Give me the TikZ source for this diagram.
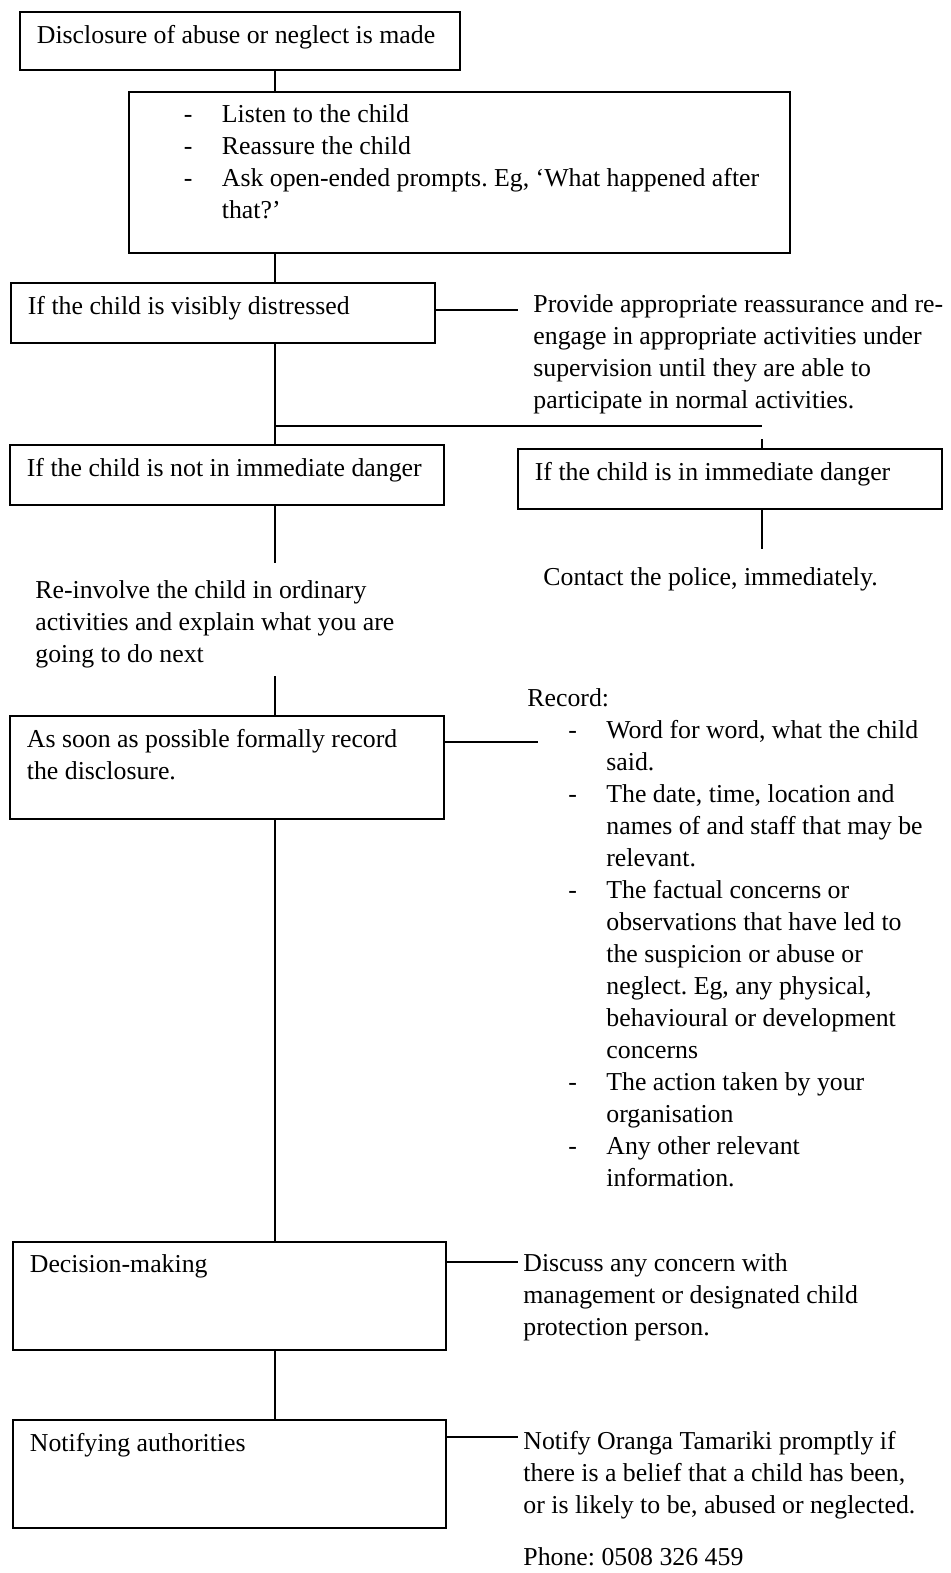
\documentclass[tikz,border=0pt]{standalone}
\usepackage{fontspec}
\setmainfont{Liberation Serif}
\usetikzlibrary{positioning}
\frenchspacing
\newcommand{\boxtxt}[3]{\parbox[c][#2][t]{#1}{\raggedright #3}}
\newcommand{\bul}{\makebox[19pt][l]{-}}
\begin{document}
\begin{tikzpicture}[x=0.5pt, y=-0.5pt,
  font=\fontsize{12.9pt}{16pt}\selectfont,
  box/.style={draw, line width=0.9pt, anchor=north west, inner xsep=8.5pt, inner ysep=6.5pt},
  txt/.style={anchor=north west, inner sep=0pt, align=left},
  line/.style={line width=0.6pt}]

  \useasboundingbox (0,0) rectangle (951,1573);

  % boxes down the left side
  \node[box] (made) at (19,11) {\boxtxt{203pt}{16pt}{Disclosure of abuse or neglect is made}};
  \node[box] (listen) at (128,91) {\boxtxt{313.5pt}{67.5pt}{\leftskip=19pt
    \bul Listen to the child\\
    \bul Reassure the child\\
    \bul Ask open-ended prompts. Eg, `What happened after\\
    \hspace*{19pt}that?'}};
  \node[box] (upset) at (10,282) {\boxtxt{195pt}{17pt}{If the child is visibly distressed}};
  \node[box] (safe) at (9,444) {\boxtxt{200pt}{17pt}{If the child is not in immediate danger}};
  \node[box] (danger) at (517,448) {\boxtxt{195pt}{17pt}{If the child is in immediate danger}};
  \node[box] (record) at (9,715) {\boxtxt{200pt}{38.5pt}{As soon as possible formally record the disclosure.}};
  \node[box] (decide) at (12,1241) {\boxtxt{199.5pt}{41pt}{Decision-making}};
  \node[box] (notify) at (12,1419) {\boxtxt{199.5pt}{41pt}{Notifying authorities}};

  % free texts
  \node[txt] (tcalm) at (533,294) {Provide appropriate reassurance and re-\\
    engage in appropriate activities under\\
    supervision until they  are able to\\
    participate in normal activities.};
  \node[txt] (tpolice) at (543,567) {Contact the police, immediately.};
  \node[txt] (tback) at (35,580) {Re-involve the child in ordinary\\
    activities and explain what you are\\
    going to do next};
  \node[txt] (trec) at (527,688) {Record:\\
    \hspace*{20.5pt}\bul Word for word, what the child\\
    \hspace*{39.5pt}said.\\
    \hspace*{20.5pt}\bul The date, time, location and\\
    \hspace*{39.5pt}names of and staff that may be\\
    \hspace*{39.5pt}relevant.\\
    \hspace*{20.5pt}\bul The factual concerns or\\
    \hspace*{39.5pt}observations that have led to\\
    \hspace*{39.5pt}the suspicion or abuse or\\
    \hspace*{39.5pt}neglect. Eg, any physical,\\
    \hspace*{39.5pt}behavioural or development\\
    \hspace*{39.5pt}concerns\\
    \hspace*{20.5pt}\bul The action taken by your\\
    \hspace*{39.5pt}organisation\\
    \hspace*{20.5pt}\bul Any other relevant\\
    \hspace*{39.5pt}information.};
  \node[txt] (tdisc) at (523,1253) {Discuss any concern with\\
    management or designated child\\
    protection person.};
  \node[txt] (tnotify) at (523,1431) {Notify Oranga Tamariki promptly if\\
    there is a belief that a child has been,\\
    or is likely to be, abused or neglected.};
  \node[txt] (tphone) at (523,1547) {Phone: 0508 326 459};

  \coordinate (spine) at (275,0);
  \coordinate (split) at (275,426);
  \coordinate (branch) at (762,426);
  \coordinate (stub) at (762,439);
  \coordinate (calm) at (518,310);
  \coordinate (police) at (762,549);
  \coordinate (back) at (275,563);
  \coordinate (resume) at (275,676);
  \coordinate (rec) at (538,742);
  \coordinate (disc) at (518,1262);
  \coordinate (tell) at (518,1437);

  \draw[line]
  (made.south -| spine) -- (listen.north -| spine)
  (listen.south -| spine) -- (upset.north -| spine)
  (upset.south -| spine) -- (safe.north -| spine)
  (split) -- (branch)
  (stub) -- (stub |- danger.north)
  (danger.south -| police) -- (police)
  (safe.south -| back) -- (back)
  (resume) -- (resume |- record.north)
  (record.south -| spine) -- (decide.north -| spine)
  (decide.south -| spine) -- (notify.north -| spine)
  (upset.east |- calm) -- (calm)
  (record.east |- rec) -- (rec)
  (decide.east |- disc) -- (disc)
  (notify.east |- tell) -- (tell);
\end{tikzpicture}
\end{document}
